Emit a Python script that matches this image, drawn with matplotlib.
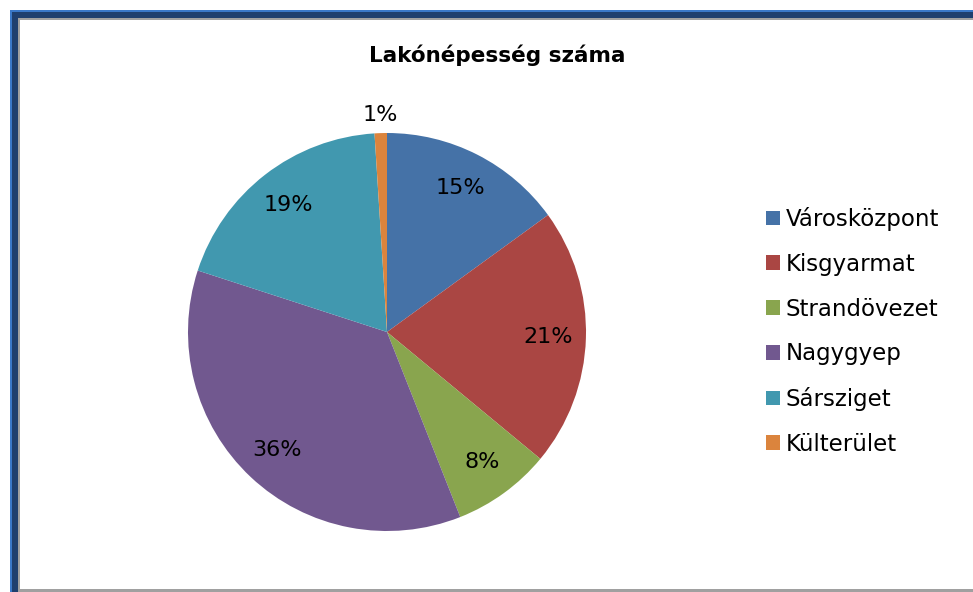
import matplotlib
matplotlib.use("Agg")
import matplotlib.pyplot as plt
import numpy as np
from matplotlib.patches import Rectangle

categories = ["Városközpont", "Kisgyarmat", "Strandövezet", "Nagygyep", "Sársziget", "Külterület"]
values = [15, 21, 8, 36, 19, 1]
colors = ["#4572A7", "#AA4643", "#89A54E", "#71588F", "#4198AF", "#DB843D"]
title = "Lakónépesség száma"

W, H = 973, 592
fig = plt.figure(figsize=(W / 100, H / 100), dpi=100)
fig.patch.set_facecolor("white")

# frame (pixel coords from top-left)
def px_rect(x0, y0, x1, y1, color):
    fig.patches.append(Rectangle((x0 / W, 1 - y1 / H), (x1 - x0) / W, (y1 - y0) / H,
                                 transform=fig.transFigure, facecolor=color,
                                 edgecolor="none", zorder=0))

px_rect(10, 10, W, 12, "#3A78C8")
px_rect(10, 10, 12, H, "#3A78C8")
px_rect(12, 12, W, 18, "#1F3F6E")
px_rect(12, 12, 18, H, "#1F3F6E")
px_rect(18, 18, W, 20, "#A0A0A0")
px_rect(18, 18, 20, H, "#A0A0A0")
px_rect(18, 589, W, 592, "#A0A0A0")

cx, cy, R = 387, 332, 199
ax = fig.add_axes([(cx - R) / W, 1 - (cy + R) / H, 2 * R / W, 2 * R / H])
ax.axis("off")

wedges, _ = ax.pie(values, colors=colors, startangle=90, counterclock=False,
                   radius=1, center=(0, 0), frame=False,
                   wedgeprops=dict(linewidth=0))
ax.set_xlim(-1, 1)
ax.set_ylim(-1, 1)
ax.set_aspect("auto")

for w, v in zip(wedges, values):
    ang = np.deg2rad((w.theta1 + w.theta2) / 2)
    d = 0.81 if v >= 5 else 1.09
    ax.text(d * np.cos(ang), d * np.sin(ang), f"{v}%", ha="center", va="center",
            fontsize=16, color="#000000", family="DejaVu Sans")

fig.text(497 / W, 1 - 55 / H, title, ha="center", va="center",
         fontsize=15.5, fontweight="bold", family="DejaVu Sans")

leg = fig.legend(wedges, categories, loc="upper left",
                 bbox_to_anchor=(766 / W, 1 - 207 / H), frameon=False,
                 prop=dict(family="DejaVu Sans", size=16.5),
                 handlelength=0.6, handleheight=0.6,
                 labelspacing=0.95, handletextpad=0.25, borderaxespad=0,
                 borderpad=0)

fig.savefig("out.png", dpi=100)
